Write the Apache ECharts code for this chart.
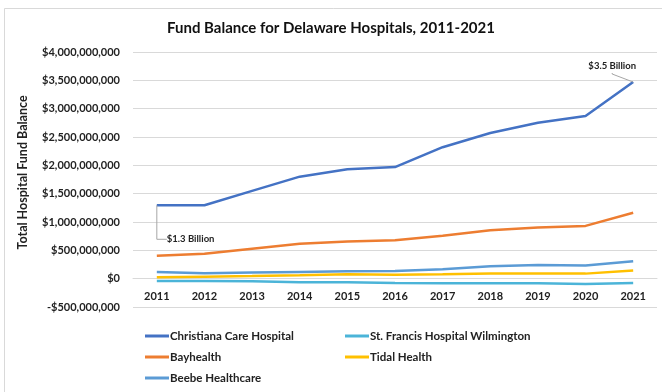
<!DOCTYPE html>
<html><head><meta charset="utf-8">
<script src="https://cdn.jsdelivr.net/npm/echarts@6/dist/echarts.min.js"></script>
<style>html,body{margin:0;padding:0;background:#fff}#c{width:662px;height:392px}</style>
</head><body><div id="c"></div>
<script>
var years = ['2011','2012','2013','2014','2015','2016','2017','2018','2019','2020','2021'];
var christiana = [1295e6,1295e6,1550e6,1800e6,1930e6,1970e6,2320e6,2570e6,2750e6,2870e6,3470e6];
var stFrancis = [-42e6,-42e6,-47e6,-65e6,-65e6,-77e6,-83e6,-83e6,-83e6,-95e6,-77e6];
var bayhealth = [403e6,439e6,528e6,617e6,658e6,676e6,759e6,854e6,902e6,931e6,1163e6];
var tidal = [24e6,36e6,47e6,59e6,77e6,71e6,77e6,89e6,89e6,89e6,142e6];
var beebe = [119e6,95e6,107e6,119e6,130e6,136e6,166e6,219e6,243e6,231e6,308e6];
var names = ['Christiana Care Hospital','St. Francis Hospital Wilmington','Bayhealth','Tidal Health','Beebe Healthcare'];
var colors = ['#4472C4','#4BB4D8','#ED7D31','#FFC000','#5B9BD5'];
var annotations = {0:'$1.3 Billion', 10:'$3.5 Billion'};

var FONT = 'Lato, "Open Sans", sans-serif';
var GRID_TOP = 52, GRID_BOTTOM = 85, H = 392;
var yMin = -500e6, yMax = 4000e6, yStep = 500e6;
var zeroOffset = (H - GRID_TOP - GRID_BOTTOM) * (0 - yMin) / (yMax - yMin);

function money(v){
  var s = Math.abs(v).toString().replace(/\B(?=(\d{3})+(?!\d))/g, ',');
  return (v < 0 ? '-$' : '$') + s;
}
function lineSeries(name, data, color, z, annotate){
  var s = {
    name: name, type: 'line', data: data.slice(),
    symbol: 'circle', symbolSize: 0.01, showSymbol: true,
    lineStyle: {width: 2.5, color: color}, itemStyle: {color: color}, z: z,
    emphasis: {disabled: true}
  };
  if (annotate) {
    s.data = data.map(function(v, i){
      if (annotations[i] === undefined) return v;
      return {value: v, label: {show: true, formatter: annotations[i],
        position: i === 0 ? 'right' : 'top',
        padding: i === 0 ? 0 : [0, 24, 2, 24],
        backgroundColor: 'rgba(255,255,255,0)',
        fontFamily: FONT, fontWeight: 'bold', fontSize: 9.5, color: '#222'},
        labelLine: {show: true, length2: i === 0 ? 10 : 1, lineStyle: {color: '#a6a6a6', width: 1}}};
    });
    s.labelLayout = function(p){
      if (p.dataIndex === 0) return {dx: 5, dy: 34};
      if (p.dataIndex === 10) return {dx: -21, dy: -4};
      return {};
    };
  }
  return s;
}
var chart = echarts.init(document.getElementById('c'));
chart.setOption({
  animation: false,
  backgroundColor: '#fff',
  title: {text: 'Fund Balance for Delaware Hospitals, 2011-2021', left: 'center', top: 16,
    textStyle: {fontFamily: FONT, fontWeight: 'bold', fontSize: 15, color: '#111'}},
  graphic: [{type: 'rect', shape: {x: 4.5, y: 8.5, width: 670, height: 400},
    style: {fill: 'none', stroke: '#d9d9d9', lineWidth: 1}, silent: true}],
  grid: {left: 133, right: 5, top: GRID_TOP, bottom: GRID_BOTTOM},
  xAxis: {type: 'category', data: years, boundaryGap: true, position: 'bottom',
    offset: -zeroOffset,
    axisLine: {onZero: false, lineStyle: {color: '#d9d9d9', width: 1}},
    axisTick: {show: false},
    axisLabel: {fontFamily: FONT, fontWeight: 'bold', fontSize: 11, color: '#222', margin: 12}},
  yAxis: {type: 'value', min: yMin, max: yMax, interval: yStep,
    name: 'Total Hospital Fund Balance', nameLocation: 'middle', nameRotate: 90, nameGap: 104,
    nameTextStyle: {fontFamily: FONT, fontWeight: 'bold', fontSize: 12.5, color: '#222', padding: [0,0,0,14]},
    axisLine: {show: false}, axisTick: {show: false},
    splitLine: {lineStyle: {color: '#d9d9d9', width: 1}},
    axisLabel: {fontFamily: FONT, fontWeight: 'bold', fontSize: 11, color: '#222', margin: 13, formatter: money}},
  legend: [
    {data: [names[0], names[2], names[4]], left: 140, top: 325, orient: 'vertical', itemGap: 9,
     itemWidth: 24, itemHeight: 3, icon: 'rect',
     textStyle: {fontFamily: FONT, fontWeight: 'bold', fontSize: 11.5, color: '#222', padding: [0,0,0,-4]}},
    {data: [names[1], names[3]], left: 340, top: 325, orient: 'vertical', itemGap: 9,
     itemWidth: 24, itemHeight: 3, icon: 'rect',
     textStyle: {fontFamily: FONT, fontWeight: 'bold', fontSize: 11.5, color: '#222', padding: [0,0,0,-4]}}
  ],
  series: [
    lineSeries(names[0], christiana, colors[0], 5, true),
    lineSeries(names[1], stFrancis, colors[1], 4),
    lineSeries(names[2], bayhealth, colors[2], 3),
    lineSeries(names[3], tidal, colors[3], 2),
    lineSeries(names[4], beebe, colors[4], 1)
  ]
});
</script></body></html>
